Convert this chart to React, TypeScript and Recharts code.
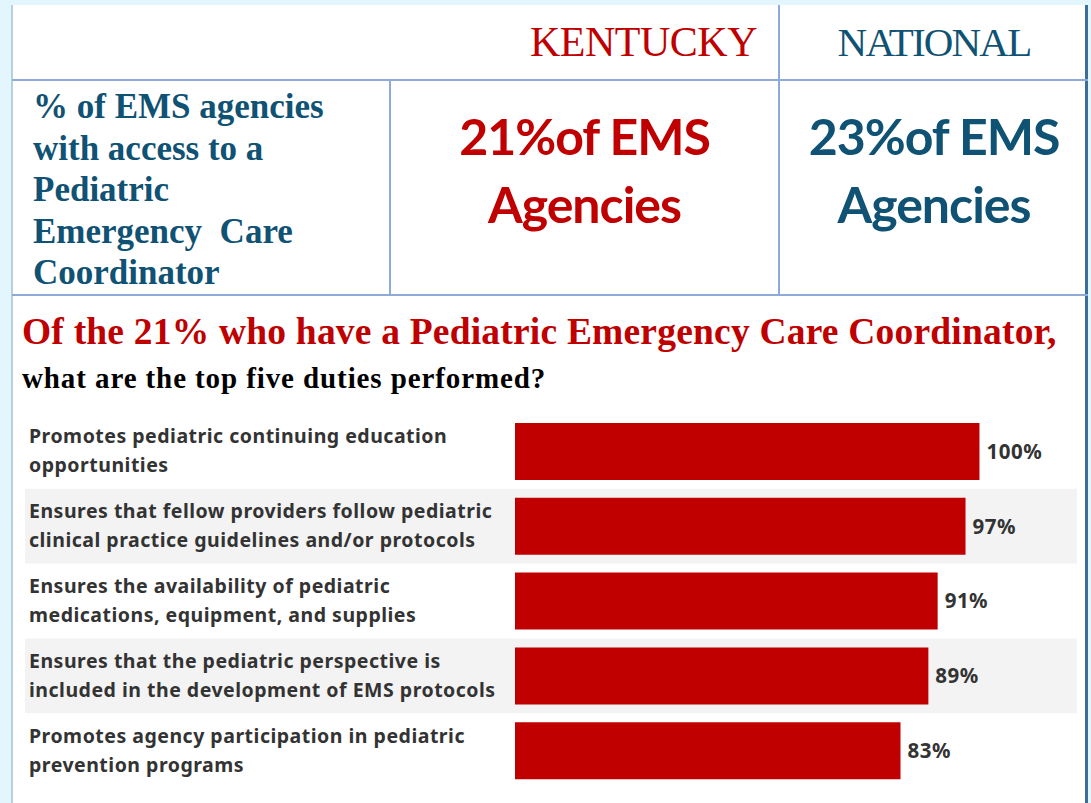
import React from 'react';
import { BarChart, Bar, XAxis, YAxis, ReferenceArea, LabelList } from 'recharts';

// duty labels, "|" marks the line break used in the reference
const duties = [
  'Promotes pediatric continuing education|opportunities',
  'Ensures that fellow providers follow pediatric|clinical practice guidelines and/or protocols',
  'Ensures the availability of pediatric|medications, equipment, and supplies',
  'Ensures that the pediatric perspective is|included in the development of EMS protocols',
  'Promotes agency participation in pediatric|prevention programs',
];
const dutyPct = [100, 97, 91, 89, 83];
const stripedRows = [1, 3];

const kentuckyShare = '21%';
const nationalShare = '23%';

const data = duties.map((duty, i) => ({ duty, pct: dutyPct[i] }));

const RED = '#c00000';
const BLUE = '#0f5274';
const STRIPE = '#f3f3f3';
const LINE = '#8eaadb';
const SERIF = '"Liberation Serif", "Times New Roman", serif';
const SANS = '"Noto Sans", "Open Sans", sans-serif';
const BIG = 'Lato, "Liberation Sans", sans-serif';

const CHART_W = 1091;
const CHART_H = 374;
const AXIS_W = 515;
const LABEL_X = 29;
const STRIPE_X = 25;

function DutyTick(props: any) {
  const { y, payload, index } = props;
  const half = payload?.offset ? payload.offset : CHART_H / duties.length / 2;
  const lines = String(payload.value).split('|');
  return (
    <g>
      {stripedRows.includes(index) && (
        <rect x={STRIPE_X} y={y - half} width={AXIS_W - STRIPE_X} height={half * 2} fill={STRIPE} />
      )}
      <text
        x={LABEL_X}
        y={y}
        fill="#333"
        fontSize={19.5}
        fontWeight={700}
        fontFamily={SANS}
        letterSpacing={0.5}
      >
        {lines.map((l, i) => (
          <tspan key={i} x={LABEL_X} dy={i === 0 ? -8 : 29}>
            {l}
          </tspan>
        ))}
      </text>
    </g>
  );
}

const abs = (s: React.CSSProperties): React.CSSProperties => ({ position: 'absolute', ...s });

export default function App() {
  return (
    <div style={abs({ left: 0, top: 0, width: 1091, height: 803, background: '#e3f5fd', overflow: 'hidden' })}>
      {/* white panel */}
      <div
        style={abs({
          left: 11,
          top: 5,
          width: 1077,
          height: 798,
          background: '#fff',
          borderLeft: '2px solid #b7cfe0',
          borderRight: '3px solid #3a6f99',
          boxSizing: 'border-box',
        })}
      />

      {/* table lines */}
      <div style={abs({ left: 12, top: 79, width: 1076, height: 2, background: LINE })} />
      <div style={abs({ left: 12, top: 294, width: 1076, height: 2, background: LINE })} />
      <div style={abs({ left: 389, top: 80, width: 2, height: 215, background: LINE })} />
      <div style={abs({ left: 778, top: 5, width: 2, height: 290, background: LINE })} />

      {/* header row */}
      <div
        style={abs({
          left: 391, top: 5, width: 366, height: 74, textAlign: 'right', lineHeight: '74px',
          fontFamily: SERIF, fontSize: 42, color: RED, letterSpacing: -0.5,
        })}
      >
        KENTUCKY
      </div>
      <div
        style={abs({
          left: 780, top: 5, width: 308, height: 74, textAlign: 'center', lineHeight: '74px',
          fontFamily: SERIF, fontSize: 41, color: BLUE, letterSpacing: -1.8,
        })}
      >
        NATIONAL
      </div>

      {/* row 2 */}
      <div
        style={abs({
          left: 33, top: 86, width: 350, fontFamily: SERIF, fontWeight: 700, fontSize: 35,
          lineHeight: '41.5px', color: BLUE,
        })}
      >
        % of EMS agencies<br />with access to a<br />Pediatric<br />Emergency&nbsp; Care<br />Coordinator
      </div>
      <div
        style={abs({
          left: 391, top: 102, width: 387, textAlign: 'center', fontFamily: BIG, fontWeight: 700,
          fontSize: 50, lineHeight: '68px', color: RED, letterSpacing: -1,
        })}
      >
        {kentuckyShare}of EMS<br />Agencies
      </div>
      <div
        style={abs({
          left: 780, top: 102, width: 308, textAlign: 'center', fontFamily: BIG, fontWeight: 700,
          fontSize: 50, lineHeight: '68px', color: BLUE, letterSpacing: -1,
        })}
      >
        {nationalShare}of EMS<br />Agencies
      </div>

      {/* titles */}
      <div
        style={abs({
          left: 22, top: 311, whiteSpace: 'nowrap', fontFamily: SERIF, fontWeight: 700, fontSize: 37.5,
          lineHeight: '42px', color: RED, letterSpacing: 0.2,
        })}
      >
        Of the 21% who have a Pediatric Emergency Care Coordinator,
      </div>
      <div
        style={abs({
          left: 22, top: 361, whiteSpace: 'nowrap', fontFamily: SERIF, fontWeight: 700, fontSize: 29,
          lineHeight: '34px', color: '#000', letterSpacing: 0.9,
        })}
      >
        what are the top five duties performed?
      </div>

      {/* bar chart */}
      <div style={abs({ left: 0, top: 414, width: CHART_W, height: CHART_H })}>
        <BarChart
          width={CHART_W}
          height={CHART_H}
          data={data}
          layout="vertical"
          margin={{ top: 0, right: 14, bottom: 0, left: 0 }}
        >
          <XAxis type="number" domain={[0, 121]} hide />
          <YAxis
            type="category"
            dataKey="duty"
            width={AXIS_W}
            axisLine={false}
            tickLine={false}
            interval={0}
            tick={(p: any) => <DutyTick {...p} />}
          />
          {stripedRows.map((r) => (
            <ReferenceArea
              key={r}
              y1={duties[r]}
              y2={duties[r]}
              fill={STRIPE}
              fillOpacity={1}
              stroke="none"
            />
          ))}
          <Bar dataKey="pct" fill={RED} barSize={57} isAnimationActive={false}>
            <LabelList
              dataKey="pct"
              position="right"
              offset={7}
              formatter={(v: any) => `${v}%`}
              fill="#333"
              fontSize={20.5}
              fontWeight={700}
              fontFamily={SANS}
              letterSpacing={0.5}
            />
          </Bar>
        </BarChart>
      </div>
    </div>
  );
}
